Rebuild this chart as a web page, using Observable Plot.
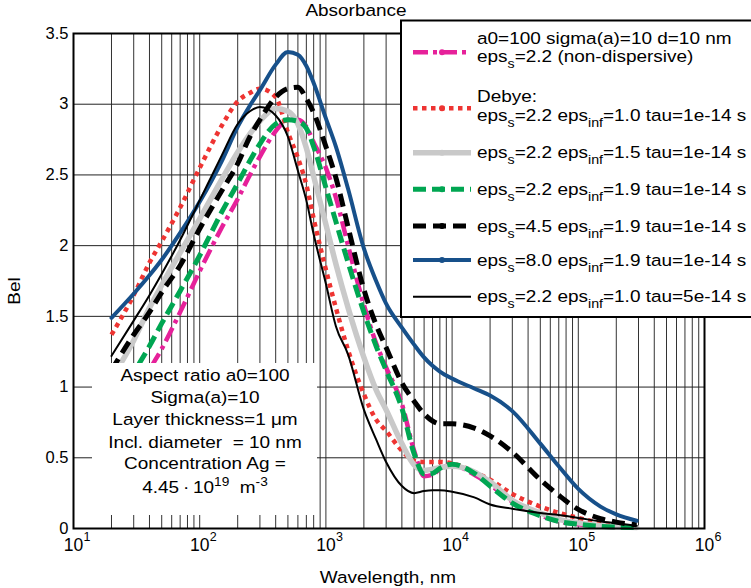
<!DOCTYPE html>
<html><head><meta charset="utf-8">
<script src="https://cdn.jsdelivr.net/npm/d3@7"></script>
<script src="https://cdn.jsdelivr.net/npm/@observablehq/plot@0.6"></script>
<style>
html,body{margin:0;padding:0;background:#fff;overflow:hidden}
#wrap{position:relative;width:751px;height:588px;overflow:hidden;font-family:"Liberation Sans",Arial,sans-serif;background:#fff}
#wrap > svg{position:absolute;left:0;top:0}
</style></head><body><div id="wrap"></div>
<script>
// ---------------- data ----------------
const wavelengths = [20,30,40,50,70,100,150,200,250,300,400,500,600,700,800,1000,1200,1500,2000,2500,3000,4000,5000,6000,7000,8000,10000,15000,20000,30000,50000,70000,100000,150000,200000,290000];

const nonDispersive = [0.60,0.90,1.12,1.27,1.53,1.82,2.13,2.33,2.50,2.63,2.81,2.89,2.89,2.84,2.73,2.55,2.34,2.00,1.58,1.31,1.14,0.88,0.55,0.37,0.38,0.42,0.45,0.38,0.31,0.19,0.095,0.05,0.03,0.015,0.01,0.007];
const debyeInf10 = [1.37,1.65,1.88,2.03,2.27,2.55,2.85,3.02,3.08,3.11,3.05,2.80,2.62,2.43,2.19,1.83,1.56,1.26,0.95,0.77,0.69,0.55,0.48,0.47,0.47,0.47,0.46,0.40,0.345,0.245,0.155,0.11,0.075,0.04,0.025,0.007];
const debyeInf15 = [1.06,1.33,1.56,1.72,1.95,2.19,2.47,2.66,2.79,2.88,2.97,2.95,2.86,2.69,2.49,2.15,1.87,1.56,1.21,0.98,0.84,0.60,0.45,0.41,0.42,0.43,0.44,0.40,0.33,0.20,0.11,0.065,0.04,0.02,0.012,0.007];
const debyeInf19 = [0.81,1.10,1.29,1.45,1.68,1.93,2.24,2.44,2.60,2.72,2.86,2.89,2.88,2.83,2.70,2.41,2.17,1.88,1.53,1.29,1.12,0.85,0.53,0.385,0.39,0.425,0.455,0.39,0.30,0.18,0.09,0.05,0.03,0.015,0.01,0.007];
const debyeEps45 = [1.12,1.37,1.53,1.67,1.86,2.12,2.39,2.58,2.77,2.89,3.05,3.11,3.12,3.04,2.94,2.70,2.48,2.13,1.69,1.44,1.28,1.03,0.90,0.81,0.76,0.74,0.74,0.71,0.655,0.54,0.345,0.235,0.135,0.07,0.045,0.026];
const debyeEps80 = [1.49,1.66,1.79,1.90,2.09,2.31,2.60,2.84,2.99,3.10,3.28,3.37,3.35,3.27,3.15,2.90,2.70,2.40,1.98,1.75,1.59,1.42,1.30,1.21,1.15,1.11,1.06,0.99,0.94,0.83,0.60,0.44,0.28,0.155,0.10,0.055];
const debyeTau5 = [1.22,1.47,1.65,1.80,2.04,2.32,2.64,2.86,2.95,2.98,2.92,2.77,2.53,2.32,2.08,1.73,1.43,1.23,0.84,0.63,0.47,0.30,0.25,0.265,0.27,0.27,0.26,0.22,0.17,0.14,0.11,0.095,0.075,0.05,0.037,0.019];

const seriesValues = [nonDispersive, debyeInf10, debyeInf15, debyeInf19, debyeEps45, debyeEps80, debyeTau5];
const legendLabels = [
  ["a0=100 sigma(a)=10 d=10 nm", "eps_{s}=2.2 (non-dispersive)"],
  ["Debye:", "eps_{s}=2.2 eps_{inf}=1.0 tau=1e-14 s"],
  ["eps_{s}=2.2 eps_{inf}=1.5 tau=1e-14 s"],
  ["eps_{s}=2.2 eps_{inf}=1.9 tau=1e-14 s"],
  ["eps_{s}=4.5 eps_{inf}=1.9 tau=1e-14 s"],
  ["eps_{s}=8.0 eps_{inf}=1.9 tau=1e-14 s"],
  ["eps_{s}=2.2 eps_{inf}=1.0 tau=5e-14 s"]
];
const noteLines = ["Aspect ratio a0=100", "Sigma(a)=10", "Layer thickness=1 \u03bcm", "Incl. diameter \u00a0= 10 nm", "Concentration Ag =", "4.45\u2009\u00b7\u200910^{19} \u00a0m^{-3}"];
const yTicks = [0, 0.5, 1, 1.5, 2, 2.5, 3, 3.5];
const xTickExponents = [1, 2, 3, 4, 5, 6];
const titleText = "Absorbance";
const xLabel = "Wavelength, nm";
const yLabel = "Bel";

// ---------------- styles ----------------
const styles = [
  {stroke: "#e6219a", width: 4.5, dash: "15,5,4,5"},
  {stroke: "#ee3432", width: 4.5, dash: "4.5,4.5"},
  {stroke: "#c9c9c9", width: 5.5, dash: null},
  {stroke: "#00a652", width: 5, dash: "13,6"},
  {stroke: "#000000", width: 5, dash: "13,7"},
  {stroke: "#17508a", width: 4, dash: null},
  {stroke: "#000000", width: 2, dash: null}
];

// grid positions: every 1..9 x 10^k
const gridX = [];
for (let k = 1; k <= 5; k++) for (let m = 1; m <= 9; m++) if (!(k === 1 && m === 1)) gridX.push(m * 10 ** k);
const gridY = [0.5, 1, 1.5, 2, 2.5, 3];

const lineMarks = seriesValues.map((vals, i) => {
  const s = styles[i];
  const data = wavelengths.map((w, j) => ({w, v: vals[j]}));
  const opts = {x: "w", y: "v", stroke: s.stroke, strokeWidth: s.width, curve: "monotone-x", strokeLinejoin: "round"};
  if (s.dash) { opts.strokeDasharray = s.dash; opts.strokeLinecap = "butt"; }
  return Plot.line(data, opts);
});

const plot = Plot.plot({
  width: 751, height: 588,
  marginLeft: 73, marginRight: 47, marginTop: 33, marginBottom: 60,
  x: {type: "log", domain: [10, 1e6], axis: null},
  y: {domain: [0, 3.5]},
  style: {fontFamily: "'Liberation Sans', Arial, sans-serif", fontSize: "16.5px", color: "#000", background: "transparent"},
  marks: [
    Plot.ruleX(gridX, {stroke: "#333", strokeWidth: 1}),
    Plot.ruleY(gridY, {stroke: "#222", strokeWidth: 1}),
    ...lineMarks,
    Plot.frame({stroke: "#000", strokeWidth: 2}),
    Plot.axisY({ticks: yTicks, tickSize: 0, tickPadding: 5, tickFormat: d => String(d), label: null, fontSize: 16.5}),
    Plot.text(xTickExponents, {x: e => 10 ** e, text: () => "10", frameAnchor: "bottom", dy: 22, fontSize: 17.5}),
    Plot.text(xTickExponents, {x: e => 10 ** e, text: e => String(e), frameAnchor: "bottom", dy: 12, dx: 10, textAnchor: "start", fontSize: 12.5})
  ]
});
document.getElementById("wrap").appendChild(plot);

// ---------------- overlay (title, labels, note box, legend) ----------------
const SX = 1.15, FS = 16.5;
const esc = s => s.replace(/&/g, "&amp;").replace(/</g, "&lt;");
function rich(str, x, y, anchor, extra = "") {
  const parts = str.split(/(_\{[^}]*\}|\^\{[^}]*\})/).filter(p => p);
  let out = "", shift = 0;
  for (const p of parts) {
    if (p.startsWith("_{")) { out += `<tspan dy="${6 - shift}" font-size="${FS * 0.75}">${esc(p.slice(2, -1))}</tspan>`; shift = 6; }
    else if (p.startsWith("^{")) { out += `<tspan dy="${-7 - shift}" font-size="${FS * 0.72}">${esc(p.slice(2, -1))}</tspan>`; shift = -7; }
    else { out += `<tspan dy="${-shift}">${esc(p)}</tspan>`; shift = 0; }
  }
  return `<text transform="translate(${x},${y})${extra} scale(${SX},1)" text-anchor="${anchor}" font-size="${FS}" style="white-space:pre">${out}</text>`;
}

let ov = `<svg xmlns="http://www.w3.org/2000/svg" width="751" height="588" font-family="'Liberation Sans', Arial, sans-serif" fill="#000">`;
ov += rich(titleText, 356, 16, "middle");
ov += rich(xLabel, 388, 583, "middle");
ov += `<text transform="translate(20,291) rotate(-90) scale(${SX},1)" text-anchor="middle" font-size="${FS}">${yLabel}</text>`;
// note box
ov += `<rect x="92" y="363" width="225" height="152" fill="#fff"/>`;
const noteY = [381, 403, 425, 448, 469, 493];
noteLines.forEach((t, i) => { ov += rich(t, 205, noteY[i], "middle"); });
// legend
ov += `<rect x="401" y="20.5" width="380" height="296.5" fill="#fff" stroke="#000" stroke-width="2"/>`;
const legendTextY = [[44, 62], [102, 121], [158], [195], [232], [266], [302]];
const legendSampleY = [52.3, 108.3, 152.7, 189.3, 226, 260, 296.7];
legendLabels.forEach((lines, i) => {
  const s = styles[i];
  const y = legendSampleY[i];
  ov += `<line x1="413" x2="471" y1="${y}" y2="${y}" stroke="${s.stroke}" stroke-width="${s.width}" ${s.dash ? `stroke-dasharray="${s.dash}"` : ""}/>`;
  if (i < 6) ov += `<circle cx="442" cy="${y}" r="3" fill="${s.stroke}"/>`;
  lines.forEach((t, k) => { ov += rich(t, 477, legendTextY[i][k], "start"); });
});
ov += `</svg>`;
document.getElementById("wrap").insertAdjacentHTML("beforeend", ov);
</script>
</body></html>
